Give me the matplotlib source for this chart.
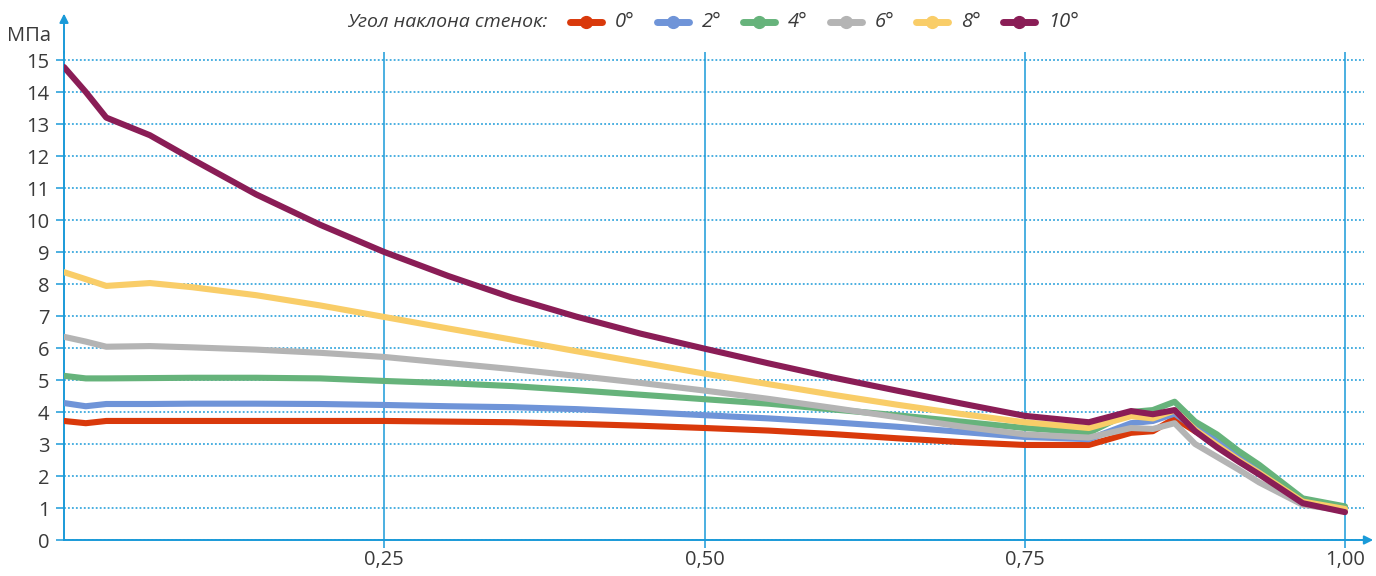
import matplotlib
matplotlib.use('Agg')
import matplotlib.pyplot as plt
from matplotlib.lines import Line2D

plt.rcParams['font.family'] = ['Open Sans', 'DejaVu Sans']

# relative position along the wall (0..1)
x = [0, 0.017, 0.033, 0.067, 0.1, 0.15, 0.2, 0.25, 0.3, 0.35, 0.4, 0.45, 0.5, 0.55,
     0.6, 0.65, 0.7, 0.75, 0.8, 0.833, 0.85, 0.867, 0.883, 0.9, 0.917, 0.933, 0.967, 1.0]

# pressure, MPa, for each wall angle
p0 = [3.72, 3.65, 3.72, 3.72, 3.72, 3.72, 3.72, 3.72, 3.7, 3.68, 3.63, 3.57, 3.5, 3.42,
      3.31, 3.18, 3.06, 2.97, 2.97, 3.35, 3.4, 3.8, 3.4, 3.0, 2.55, 2.15, 1.2, 0.95]
p2 = [4.28, 4.18, 4.25, 4.25, 4.26, 4.26, 4.25, 4.22, 4.18, 4.15, 4.09, 4.0, 3.9, 3.8,
      3.68, 3.54, 3.38, 3.22, 3.15, 3.65, 3.72, 3.95, 3.5, 3.12, 2.65, 2.2, 1.27, 1.0]
p4 = [5.13, 5.05, 5.05, 5.06, 5.07, 5.07, 5.05, 4.97, 4.9, 4.81, 4.68, 4.54, 4.4, 4.26,
      4.08, 3.9, 3.7, 3.5, 3.35, 4.0, 4.06, 4.32, 3.7, 3.3, 2.78, 2.35, 1.3, 1.05]
p6 = [6.35, 6.2, 6.04, 6.06, 6.02, 5.95, 5.85, 5.72, 5.53, 5.34, 5.13, 4.91, 4.67, 4.41,
      4.13, 3.84, 3.55, 3.3, 3.2, 3.5, 3.47, 3.65, 3.0, 2.6, 2.2, 1.8, 1.1, 0.92]
p8 = [8.37, 8.15, 7.94, 8.03, 7.9, 7.65, 7.33, 6.97, 6.61, 6.26, 5.9, 5.55, 5.2, 4.87,
      4.54, 4.23, 3.94, 3.68, 3.5, 3.87, 3.8, 4.05, 3.45, 2.97, 2.5, 2.1, 1.2, 0.97]
p10 = [14.78, 14.0, 13.2, 12.65, 11.9, 10.8, 9.85, 9.0, 8.25, 7.57, 6.98, 6.45, 5.98, 5.52,
       5.08, 4.67, 4.27, 3.88, 3.68, 4.03, 3.93, 4.06, 3.4, 2.9, 2.45, 2.05, 1.15, 0.87]

series = [p0, p2, p4, p6, p8, p10]
labels = ['0°', '2°', '4°', '6°', '8°', '10°']
colors = ['#d9390b', '#6f94d8', '#66b37b', '#b4b4b4', '#f9cd68', '#8a1d56']

x_ticks = [0.25, 0.5, 0.75, 1.0]
x_tick_labels = ['0,25', '0,50', '0,75', '1,00']
y_ticks = list(range(0, 16))

blue = '#1a9ad8'
text_col = '#3a3a3a'

W, H = 1376, 576
fig = plt.figure(figsize=(W / 100, H / 100), dpi=100)

# axes placed in pixel terms
x_max = 1.0145
y_max = 15.25
left, right = 64, 64 + 1281 * x_max
bottom, top = 540, 52
ax = fig.add_axes([left / W, 1 - bottom / H, (right - left) / W, (bottom - top) / H])
ax.set_xlim(0, x_max)
ax.set_ylim(0, y_max)

for vals, c in zip(series, colors):
    ax.plot(x, vals, color=c, lw=4.4, solid_capstyle='round', solid_joinstyle='round', zorder=3)

# grid
ax.set_yticks(y_ticks)
ax.set_xticks(x_ticks)
ax.set_xticklabels(x_tick_labels)
ax.yaxis.grid(True, color=blue, lw=1.1, linestyle=(0, (1.2, 1.4)))
ax.xaxis.grid(True, color=blue, lw=1.1, linestyle='-')
ax.set_axisbelow(True)

ax.tick_params(axis='both', colors=blue, labelcolor=text_col, labelsize=14.5,
               length=5.5, width=1.1, direction='out')
ax.tick_params(axis='y', pad=5)
ax.tick_params(axis='x', pad=2)

for s in ['top', 'right']:
    ax.spines[s].set_visible(False)
for s in ['left', 'bottom']:
    ax.spines[s].set_color(blue)
    ax.spines[s].set_linewidth(1.4)

# axis arrows
ax.annotate('', xy=(1.022, 0), xytext=(x_max - 0.001, 0), xycoords='data',
            arrowprops=dict(arrowstyle='-|>', color=blue, lw=1.4, mutation_scale=13,
                            shrinkA=0, shrinkB=0), annotation_clip=False)
ax.annotate('', xy=(0, 16.45), xytext=(0, y_max - 0.02), xycoords='data',
            arrowprops=dict(arrowstyle='-|>', color=blue, lw=1.4, mutation_scale=13,
                            shrinkA=0, shrinkB=0), annotation_clip=False)

fig.text(7 / W, 1 - 36 / H, 'МПа', fontsize=14.5, color=text_col, ha='left', va='center')

# legend drawn by hand along the top
ly = 1 - 22 / H
fig.text(547 / W, ly, 'Угол наклона стенок:', fontsize=14, style='italic',
         color=text_col, ha='right', va='center')
for i in range(len(labels)):
    x0 = 570 + 86.6 * i
    fig.add_artist(Line2D([x0 / W, (x0 + 16) / W, (x0 + 32) / W], [ly, ly, ly],
                          color=colors[i], lw=5, marker='o', markersize=8.5,
                          markevery=[1], solid_capstyle='round'))
    fig.text((x0 + 45) / W, ly, labels[i], fontsize=14.5, style='italic',
             color=text_col, ha='left', va='center')

fig.savefig('out.png', dpi=100)
